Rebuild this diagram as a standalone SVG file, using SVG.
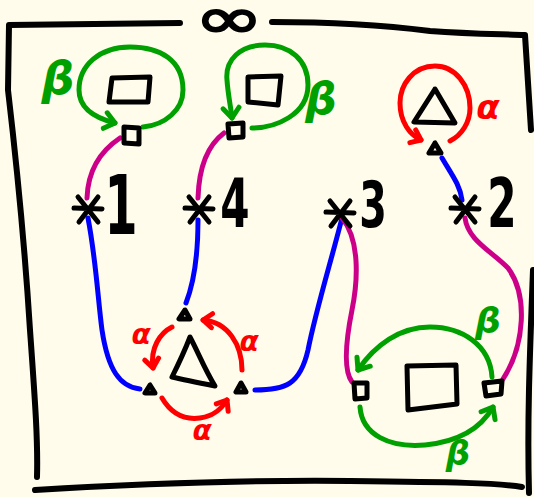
<svg xmlns="http://www.w3.org/2000/svg" width="534" height="497" viewBox="0 0 534 497">
<style>
.frame{fill:none;stroke:#000;stroke-width:6;stroke-linecap:round;stroke-linejoin:round}
.box{fill:none;stroke:#000;stroke-width:5;stroke-linecap:round;stroke-linejoin:round}
.tri{fill:none;stroke:#000;stroke-width:5;stroke-linecap:round;stroke-linejoin:round}
.ast{fill:none;stroke:#000;stroke-width:5;stroke-linecap:round}
.g{fill:none;stroke:#00a000;stroke-width:5;stroke-linecap:round}
.r{fill:none;stroke:#ff0000;stroke-width:5;stroke-linecap:round}
.m{fill:none;stroke:#cc0088;stroke-width:5;stroke-linecap:round}
.b{fill:none;stroke:#0000ff;stroke-width:5;stroke-linecap:round}
.num{font-family:"DejaVu Sans",sans-serif;font-weight:bold;fill:#000;text-anchor:middle}
.inf{font-family:"DejaVu Sans",sans-serif;fill:#000;stroke:#000;stroke-width:2;text-anchor:middle}
.gl{font-family:"DejaVu Sans",sans-serif;font-weight:bold;font-style:italic;fill:#00a000;text-anchor:middle}
.rl{font-family:"DejaVu Sans",sans-serif;font-weight:bold;font-style:italic;fill:#ff0000;text-anchor:middle}
</style>
<defs>
<marker id="ag" viewBox="-14 -12 18 24" refX="0" refY="0" markerWidth="18" markerHeight="24" markerUnits="userSpaceOnUse" orient="auto" overflow="visible">
<path d="M-10,-8 L0,0 L-10,8" fill="none" stroke="#00a000" stroke-width="5" stroke-linecap="round" stroke-linejoin="round"/>
</marker>
<marker id="ar" viewBox="-14 -12 18 24" refX="0" refY="0" markerWidth="18" markerHeight="24" markerUnits="userSpaceOnUse" orient="auto" overflow="visible">
<path d="M-9,-7 L0,0 L-9,7" fill="none" stroke="#ff0000" stroke-width="5" stroke-linecap="round" stroke-linejoin="round"/>
</marker>
</defs>
<rect x="0" y="0" width="534" height="497" fill="#fffcec"/>
<g id="frame">
<path class="frame" d="M180,23 L9,25 L8,90 C15,150 25,250 30,330 C35,400 38,440 37,477"/>
<path class="frame" d="M272,22 C340,22 390,26 430,31 C470,34 500,34 525,35 L531,130"/>
<path class="frame" d="M533,270 C530,350 527,420 529,493"/>
<path class="frame" d="M35,490 C150,483 250,480 350,481 C450,482 500,483 522,487"/>
<text class="inf" font-size="64" transform="translate(229,38) scale(1.3,0.9)" x="0" y="0">∞</text>
</g>
<g id="connectors">
<path class="m" d="M120,138 C102,150 88,168 87,198"/>
<path class="b" d="M88,218 C96,260 98,300 102,330 C108,370 120,387 140,389"/>
<path class="m" d="M224,133 C208,145 199,165 198,198"/>
<path class="b" d="M198,220 C198,260 193,285 186,303"/>
<path class="b" d="M442,158 C452,175 460,185 462,200"/>
<path class="b" d="M255,390 C285,390 300,385 308,350 C316,310 330,265 342,218"/>
<path class="m" d="M342,218 C360,240 358,280 352,310 C346,340 343,370 352,382"/>
<path class="m" d="M465,218 C468,240 490,250 508,268 C528,295 525,345 503,379"/>
<path class="g" marker-end="url(#ag)" d="M143,127 C165,125 183,110 183,90 C183,60 160,47 130,47 C100,47 79,65 79,90 C79,108 95,118 115,123"/>
<path class="g" marker-end="url(#ag)" d="M252,128 C275,128 308,115 308,85 C308,60 290,45 265,45 C240,45 225,60 227,80 C228,95 231,108 232,118"/>
<path class="r" marker-end="url(#ar)" d="M450,141 C462,135 470,122 470,108 C470,85 455,66 435,66 C413,66 400,85 400,103 C400,122 410,135 421,140"/>
<path class="r" marker-end="url(#ar)" d="M172,327 C160,333 150,348 153,368"/>
<path class="r" marker-end="url(#ar)" d="M242,370 C242,345 228,322 203,320"/>
<path class="r" marker-end="url(#ar)" d="M162,398 C172,415 185,420 200,418 C215,416 222,408 227,400"/>
<path class="g" marker-end="url(#ag)" d="M492,377 C490,345 462,327 430,327 C400,327 375,345 358,370"/>
<path class="g" marker-end="url(#ag)" d="M360,407 C362,435 390,448 425,445 C455,442 480,430 493,407"/>
</g>
<g id="labels">
<text class="gl" x="58" y="94" font-size="46">β</text>
<text class="gl" x="321" y="114" font-size="44">β</text>
<text class="rl" x="488" y="119" font-size="34">α</text>
<text class="rl" x="141" y="344" font-size="28">α</text>
<text class="rl" x="249" y="351" font-size="28">α</text>
<text class="rl" x="202" y="440" font-size="28">α</text>
<text class="gl" x="488" y="333" font-size="36">β</text>
<text class="gl" x="458" y="465" font-size="34">β</text>
</g>
<g id="n1">
<path class="box" d="M112,78 L150,77 L148,102 L109,102 Z"/>
<path class="box" d="M124,127 L139,128 L139,144 L124,143 Z"/>
<path class="ast" d="M74,208 L102,209 M78,197 L98,222 M98,197 L79,222"/>
<text class="num" font-size="82" transform="translate(121,234) scale(0.58,1)" x="0" y="0">1</text>
</g>
<g id="n4">
<path class="box" d="M248,77 L281,76 L278,105 L248,102 Z"/>
<path class="box" d="M228,124 L243,123 L243,137 L229,138 Z"/>
<path class="ast" d="M185,208 L213,209 M189,197 L209,222 M209,197 L190,222"/>
<text class="num" font-size="68" transform="translate(235,227) scale(0.62,1)" x="0" y="0">4</text>
</g>
<g id="n2">
<path class="tri" d="M435,89 L414,122 L455,123 Z" stroke-width="6"/>
<path class="tri" d="M435,143 L429,153 L441,153 Z"/>
<path class="ast" d="M451,208 L479,209 M455,197 L475,222 M475,197 L456,222"/>
<text class="num" font-size="68" transform="translate(502,227) scale(0.62,1)" x="0" y="0">2</text>
</g>
<g id="n3">
<path class="ast" d="M326,212 L354,213 M330,201 L350,226 M350,201 L331,226"/>
<text class="num" font-size="64" transform="translate(373,227) scale(0.62,1)" x="0" y="0">3</text>
</g>
<g id="nTri">
<path class="tri" d="M190,337 C185,350 178,365 172,377 C185,380 200,383 215,386 C205,370 198,352 190,337 Z" stroke-width="7"/>
<path class="tri" d="M185,310 L179,319 L190,319 Z"/>
<path class="tri" d="M150,385 L145,393 L155,393 Z"/>
<path class="tri" d="M241,383 L236,392 L246,392 Z"/>
</g>
<g id="nSq">
<path class="box" d="M407,366 L456,365 L457,404 L408,410 Z"/>
<path class="box" d="M354,383 L367,383 L367,398 L355,399 Z"/>
<path class="box" d="M484,383 L502,381 L501,394 L486,396 Z"/>
</g>
</svg>
